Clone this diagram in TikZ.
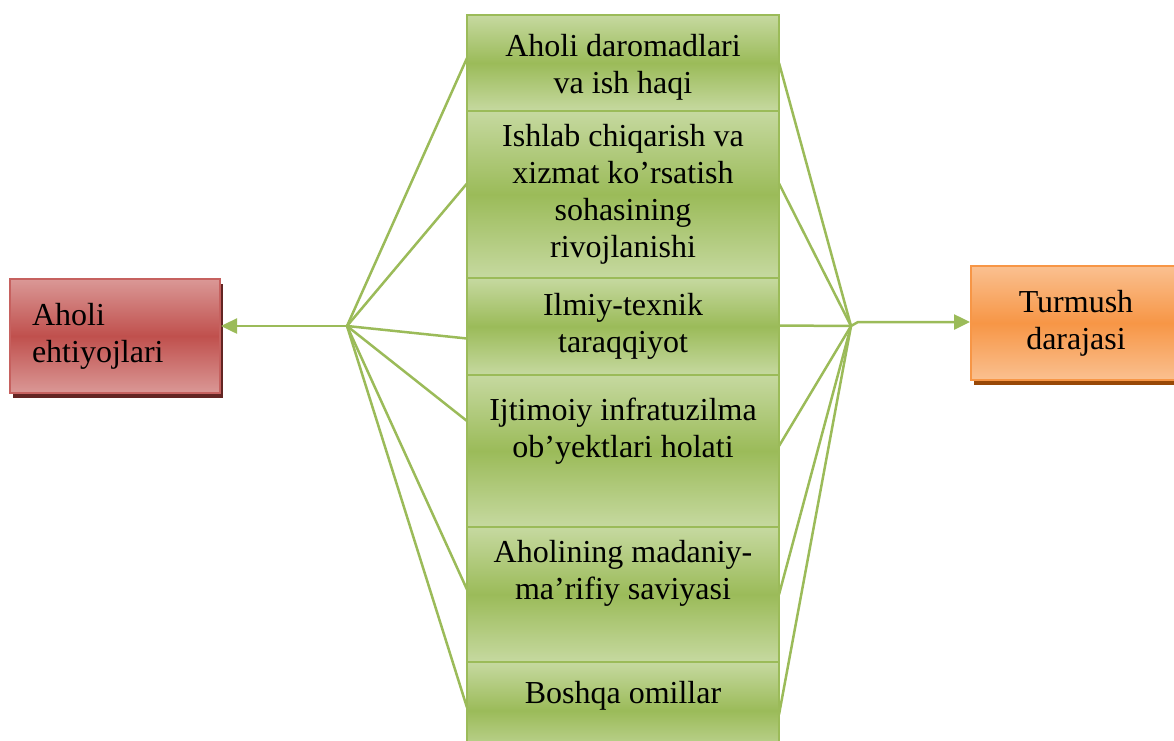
\documentclass[tikz,border=0pt]{standalone}
\usepackage{fontspec}
\setmainfont{Liberation Serif}
\usetikzlibrary{calc,positioning}
\usetikzlibrary{arrows.meta,shadows}
\definecolor{linegreen}{HTML}{9BBB59}
\definecolor{greenmid}{HTML}{9BBB59}
\definecolor{greenlight}{HTML}{C6D9A0}
\definecolor{redmid}{HTML}{C0504D}
\definecolor{redlight}{HTML}{DA9896}
\definecolor{redshadow}{HTML}{632523}
\definecolor{orangemid}{HTML}{F79646}
\definecolor{orangelight}{HTML}{FAC090}
\definecolor{orangeshadow}{HTML}{984807}
\def\boxfont{\fontsize{32}{37}\selectfont}
\tikzstyle{factor}               = [draw=greenmid,line width=2pt,
                                    top color=greenlight,bottom color=greenlight,middle color=greenmid,
                                    minimum width=312pt,align=center,
                                    inner sep=0pt,outer sep=0pt,font=\boxfont]
\tikzstyle{needbox}              = [draw=redmid!90,line width=2pt,
                                    top color=redlight,bottom color=redlight,middle color=redmid,
                                    drop shadow={shadow xshift=3pt,shadow yshift=-5pt,fill=redshadow,opacity=1},
                                    minimum width=210pt,minimum height=114pt,
                                    text width=166pt,inner xsep=22pt,align=left,font=\boxfont]
\tikzstyle{levelbox}             = [draw=orangemid,line width=2pt,
                                    top color=orangelight,bottom color=orangelight,middle color=orangemid,
                                    drop shadow={shadow xshift=3pt,shadow yshift=-5pt,fill=orangeshadow,opacity=1},
                                    minimum width=210pt,minimum height=114pt,
                                    align=center,font=\boxfont]
\tikzset{link/.style={draw=linegreen,line width=2.5pt,line join=round}}
\tikzstyle{tip}                  = [-{Triangle[length=16pt,width=15pt]}]

\begin{document}
\begin{tikzpicture}[x=1pt,y=-1pt]
        \useasboundingbox (0,0) rectangle (1174,740);

        % Factors
        \node[factor,minimum height=96pt] (b1) at (623,63) {\\[-6pt]Aholi daromadlari\\va ish haqi};
        \node[factor,minimum height=167pt,below=0pt of b1] (b2) {Ishlab chiqarish va\\xizmat ko’rsatish\\sohasining\\rivojlanishi};
        \node[factor,minimum height=97pt,below=0pt of b2] (b3) {Ilmiy-texnik\\taraqqiyot};
        \node[factor,minimum height=152pt,below=0pt of b3] (b4) {Ijtimoiy infratuzilma\\ob’yektlari holati\\[10pt]~};
        \node[factor,minimum height=135pt,below=0pt of b4] (b5) {Aholining madaniy-\\ma’rifiy saviyasi\\[12pt]~};
        \node[factor,minimum height=97pt,below=0pt of b5] (b6) {Boshqa omillar\\~};

        % Left side
        \node[needbox] (need) at (115,336) {Aholi\\ehtiyojlari};
        \coordinate (hubL) at (347,326);
        \foreach \b/\s in {b1/5,b2/11,b3/-12,b4/30,b5/5,b6/3}
            \draw[link] (hubL) -- ([yshift=\s pt]\b.west);
        \draw[link,tip] (hubL) -- (hubL -| need.east);

        % Right side
        \node[levelbox] (level) at (1076,323) {Turmush\\darajasi};
        \coordinate (hubR) at (851,326);
        \foreach \b/\s in {b1/0,b2/11,b3/1,b4/5,b5/0,b6/-4}
            \draw[link] ([yshift=\s pt]\b.east) -- (hubR);
        \draw[link,tip] (hubR) -- ++(7,-4) coordinate (k) -- (k -| level.west);
    \end{tikzpicture}
\end{document}
